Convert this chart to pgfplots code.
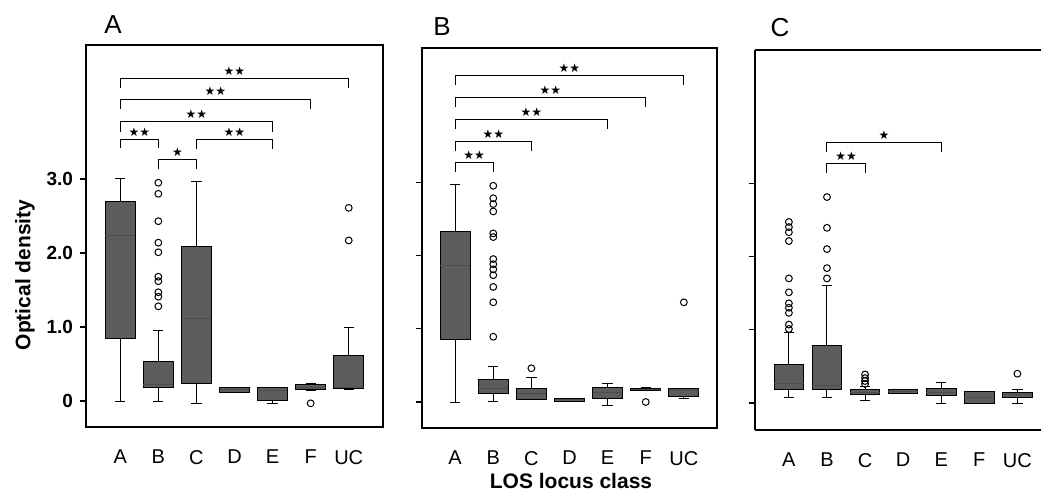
\documentclass[border=0pt]{standalone}
\usepackage{fontspec}
\setmainfont{Liberation Sans}
\newfontfamily\symfont{DejaVu Sans}
\usepackage{pgfplots}
\pgfplotsset{compat=1.18}
\usepgfplotslibrary{statistics}

\newcommand{\sig}[1]{{\symfont\fontsize{6}{6}\selectfont #1}}

\pgfplotsset{
  panel/.style={
    scale only axis, anchor=south west,
    ymin=-0.35, ymax=4.81,
    xtick={0,...,6}, xticklabels={A,B,C,D,E,F,UC},
    xtick style={draw=none},
    ytick={0,1,2,3}, ytick pos=left, tick align=outside,
    major tick length=3pt,
    ytick style={line width=0.6pt, black},
    axis line style={line width=0.8pt},
    xticklabel style={font=\fontsize{10}{12}\selectfont, yshift=-5pt},
    yticklabel style={font=\bfseries\fontsize{9.5}{11}\selectfont},
    /pgf/number format/assume math mode=true,
    boxplot/draw direction=y,
    boxplot/box extend=0.78,
    boxplot/whisker extend=0.27,
    boxplot/every box/.style={fill=black!64, draw=black, line width=0.5pt},
    boxplot/every median/.style={draw=black!70, line width=0.5pt},
    boxplot/every whisker/.style={draw=black, line width=0.5pt},
  },
  bx/.style={boxplot prepared={#1}, black, mark=o, mark size=1.7pt,
    mark options={draw=black, fill=white, line width=0.5pt, solid}},
  br/.style={black, line width=0.5pt, mark=none},
}

\begin{document}
\begin{tikzpicture}

% ---------- panel A ----------
\begin{axis}[panel, at={(43pt,33pt)}, width=148.5pt, height=191pt,
  xmin=-0.9, xmax=6.9, yticklabels={0,1.0,2.0,3.0}]
\addplot[bx={draw position=0, lower whisker=0.0, lower quartile=0.84, median=2.24, upper quartile=2.69, upper whisker=3.0}] coordinates {};
\addplot[bx={draw position=1, lower whisker=-0.01, lower quartile=0.18, median=0.22, upper quartile=0.54, upper whisker=0.96}]
  coordinates {(1,2.95) (1,2.8) (1,2.43) (1,2.14) (1,2.01) (1,1.68) (1,1.62) (1,1.47) (1,1.41) (1,1.28)};
\addplot[bx={draw position=2, lower whisker=-0.03, lower quartile=0.24, median=1.11, upper quartile=2.09, upper whisker=2.97}] coordinates {};
\addplot[bx={draw position=3, lower whisker=0.12, lower quartile=0.12, median=0.15, upper quartile=0.19, upper whisker=0.19}] coordinates {};
\addplot[bx={draw position=4, lower whisker=-0.03, lower quartile=0.01, median=0.14, upper quartile=0.18, upper whisker=0.18}] coordinates {};
\addplot[bx={draw position=5, lower whisker=0.14, lower quartile=0.15, median=0.18, upper quartile=0.23, upper whisker=0.24}] coordinates {(5,-0.03)};
\addplot[bx={draw position=6, lower whisker=0.16, lower quartile=0.17, median=0.19, upper quartile=0.61, upper whisker=1.0}] coordinates {(6,2.61) (6,2.17)};
% significance brackets
\addplot[br] coordinates {(0,4.23) (0,4.36) (6,4.36) (6,4.23)};
\addplot[br] coordinates {(0,3.95) (0,4.08) (5,4.08) (5,3.95)};
\addplot[br] coordinates {(0,3.64) (0,3.77) (4,3.77) (4,3.64)};
\addplot[br] coordinates {(0,3.42) (0,3.53) (1,3.53) (1,3.42)};
\addplot[br] coordinates {(2,3.40) (2,3.53) (4,3.53) (4,3.40)};
\addplot[br] coordinates {(1,3.13) (1,3.26) (2,3.26) (2,3.13)};
\node[anchor=south, inner sep=1pt] at (axis cs:3,4.37) {\sig{★★}};
\node[anchor=south, inner sep=1pt] at (axis cs:2.5,4.09) {\sig{★★}};
\node[anchor=south, inner sep=1pt] at (axis cs:2,3.78) {\sig{★★}};
\node[anchor=south, inner sep=1pt] at (axis cs:0.5,3.54) {\sig{★★}};
\node[anchor=south, inner sep=1pt] at (axis cs:3,3.54) {\sig{★★}};
\node[anchor=south, inner sep=1pt] at (axis cs:1.5,3.27) {\sig{★}};
\end{axis}

% ---------- panel B ----------
\begin{axis}[panel, at={(211pt,32.5pt)}, width=147.5pt, height=190pt,
  xmin=-0.87, xmax=6.87, ymin=-0.355, ymax=4.83, yticklabels={}]
\addplot[bx={draw position=0, lower whisker=-0.01, lower quartile=0.85, median=1.86, upper quartile=2.33, upper whisker=2.97}] coordinates {};
\addplot[bx={draw position=1, lower whisker=0.0, lower quartile=0.12, median=0.19, upper quartile=0.31, upper whisker=0.48}]
  coordinates {(1,2.95) (1,2.78) (1,2.70) (1,2.60) (1,2.30) (1,2.25) (1,1.95) (1,1.88) (1,1.81) (1,1.73) (1,1.57) (1,1.36) (1,0.89)};
\addplot[bx={draw position=2, lower whisker=0.03, lower quartile=0.03, median=0.12, upper quartile=0.19, upper whisker=0.33}] coordinates {(2,0.46)};
\addplot[bx={draw position=3, lower whisker=0.0, lower quartile=0.0, median=0.03, upper quartile=0.05, upper whisker=0.05}] coordinates {};
\addplot[bx={draw position=4, lower whisker=-0.05, lower quartile=0.05, median=0.13, upper quartile=0.20, upper whisker=0.25}] coordinates {};
\addplot[bx={draw position=5, lower whisker=0.15, lower quartile=0.15, median=0.17, upper quartile=0.19, upper whisker=0.20}] coordinates {(5,0.0)};
\addplot[bx={draw position=6, lower whisker=0.05, lower quartile=0.07, median=0.15, upper quartile=0.19, upper whisker=0.19}] coordinates {(6,1.36)};
\addplot[br] coordinates {(0,4.32) (0,4.45) (6,4.45) (6,4.32)};
\addplot[br] coordinates {(0,4.02) (0,4.15) (5,4.15) (5,4.02)};
\addplot[br] coordinates {(0,3.72) (0,3.85) (4,3.85) (4,3.72)};
\addplot[br] coordinates {(0,3.42) (0,3.55) (2,3.55) (2,3.42)};
\addplot[br] coordinates {(0,3.14) (0,3.27) (1,3.27) (1,3.14)};
\node[anchor=south, inner sep=1pt] at (axis cs:3,4.46) {\sig{★★}};
\node[anchor=south, inner sep=1pt] at (axis cs:2.5,4.16) {\sig{★★}};
\node[anchor=south, inner sep=1pt] at (axis cs:2,3.86) {\sig{★★}};
\node[anchor=south, inner sep=1pt] at (axis cs:1,3.56) {\sig{★★}};
\node[anchor=south, inner sep=1pt] at (axis cs:0.5,3.28) {\sig{★★}};
\end{axis}

% ---------- panel C ----------
\begin{axis}[panel, at={(377.5pt,31.5pt)}, width=143pt, height=190pt,
  xmin=-0.89, xmax=6.62, ymin=-0.368, ymax=4.816, yticklabels={},
  axis x line*=box, axis y line*=left]
\addplot[bx={draw position=0, lower whisker=0.08, lower quartile=0.19, median=0.27, upper quartile=0.53, upper whisker=0.96}]
  coordinates {(0,2.47) (0,2.40) (0,2.33) (0,2.21) (0,1.70) (0,1.51) (0,1.36) (0,1.30) (0,1.23) (0,1.07) (0,1.01)};
\addplot[bx={draw position=1, lower whisker=0.07, lower quartile=0.19, median=0.24, upper quartile=0.78, upper whisker=1.60}]
  coordinates {(1,2.81) (1,2.39) (1,2.10) (1,1.84) (1,1.70)};
\addplot[bx={draw position=2, lower whisker=0.03, lower quartile=0.11, median=0.14, upper quartile=0.18, upper whisker=0.22}]
  coordinates {(2,0.39) (2,0.34) (2,0.30) (2,0.26)};
\addplot[bx={draw position=3, lower whisker=0.13, lower quartile=0.13, median=0.16, upper quartile=0.19, upper whisker=0.19}] coordinates {};
\addplot[bx={draw position=4, lower whisker=0.0, lower quartile=0.10, median=0.15, upper quartile=0.20, upper whisker=0.28}] coordinates {};
\addplot[bx={draw position=5, lower whisker=0.0, lower quartile=0.0, median=0.08, upper quartile=0.16, upper whisker=0.16}] coordinates {};
\addplot[bx={draw position=6, lower whisker=0.0, lower quartile=0.07, median=0.11, upper quartile=0.15, upper whisker=0.18}] coordinates {(6,0.40)};
\addplot[br] coordinates {(1,3.42) (1,3.55) (4,3.55) (4,3.42)};
\addplot[br] coordinates {(1,3.14) (1,3.27) (2,3.27) (2,3.14)};
\node[anchor=south, inner sep=1pt] at (axis cs:2.5,3.56) {\sig{★}};
\node[anchor=south, inner sep=1pt] at (axis cs:1.5,3.28) {\sig{★★}};
\end{axis}

% ---------- outer labels ----------
\node[font=\fontsize{13}{15}\selectfont] at (56.5pt,234pt) {A};
\node[font=\fontsize{13}{15}\selectfont] at (221pt,233pt) {B};
\node[font=\fontsize{13}{15}\selectfont] at (390pt,232.5pt) {C};
\node[rotate=90, font=\bfseries\fontsize{10.5}{12}\selectfont] at (12.5pt,109pt) {Optical density};
\node[font=\bfseries\fontsize{10.5}{12}\selectfont] at (285.5pt,6pt) {LOS locus class};

\pgfresetboundingbox
\useasboundingbox (0,0) rectangle (520.5pt,246.5pt);
\end{tikzpicture}
\end{document}
